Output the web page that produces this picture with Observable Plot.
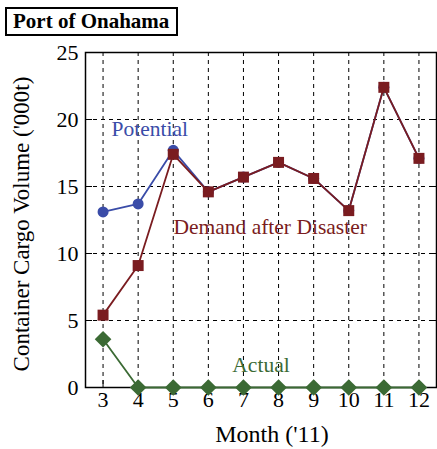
<!DOCTYPE html>
<html><head><meta charset="utf-8">
<script src="https://cdn.jsdelivr.net/npm/d3@7"></script>
<script src="https://cdn.jsdelivr.net/npm/@observablehq/plot@0.6"></script>
<style>
body{margin:0;background:#fff;font-family:"Liberation Serif",serif;}
#wrap{position:relative;width:437px;height:449px;}
#title{position:absolute;left:5px;top:7px;border:2px solid #000;padding:0px 7px 0px 6px;font:bold 21px "Liberation Serif",serif;line-height:25px;background:#fff;}
</style></head>
<body><div id="wrap"><div id="title">Port of Onahama</div></div>
<script>
const months = [3,4,5,6,7,8,9,10,11,12];
const potential = [13.1,13.7,17.7,14.6,15.7,16.8,15.6,13.2,22.4,17.1];
const demand = [5.4,9.1,17.4,14.6,15.7,16.8,15.6,13.2,22.4,17.1];
const actual = [3.6,0,0,0,0,0,0,0,0,0];
const yTicks = [0,5,10,15,20,25];
const seriesNames = ["Potential","Demand after Disaster","Actual"];
const seriesColors = ["#3a4ca8","#7a1c20","#3b6a34"];
const labelX = [4.33,7.76,7.5];
const labelY = [19.25,12.0,1.7];
const xTitle = "Month ('11)";
const yTitle = "Container Cargo Volume ('000t)";

const pot = months.map((m,i)=>({m, v:potential[i]}));
const dem = months.map((m,i)=>({m, v:demand[i]}));
const act = months.map((m,i)=>({m, v:actual[i]}));
const labels = seriesNames.map((t,i)=>({t, x:labelX[i], y:labelY[i], c:seriesColors[i]}));

const chart = Plot.plot({
  width:437, height:449,
  marginTop:52, marginLeft:85, marginRight:1, marginBottom:62,
  style:{fontFamily:"Liberation Serif, serif", fontSize:"22px", background:"#fff", color:"#000"},
  x:{domain:[2.5,12.5]},
  y:{domain:[0,25]},
  marks:[
    Plot.gridX(months,{stroke:"#000", strokeOpacity:1, strokeDasharray:"4,4", strokeWidth:1}),
    Plot.gridY([5,10,15,20],{stroke:"#000", strokeOpacity:1, strokeDasharray:"4,4", strokeWidth:1}),
    Plot.axisY(yTicks,{tickSize:0, tickPadding:7, fontSize:22, label:null}),
    Plot.axisY(yTicks,{anchor:"left", tickSize:-7, text:null, label:null}),
    Plot.axisY(yTicks,{anchor:"right", tickSize:-7, text:null, label:null}),
    Plot.axisX(months,{tickSize:0, tickPadding:4, fontSize:22, tickFormat:d=>String(d), label:null}),
    Plot.axisX(months,{anchor:"bottom", tickSize:-7, text:null, label:null}),
    Plot.text([xTitle],{frameAnchor:"bottom", lineAnchor:"middle", textAnchor:"middle", dx:11, dy:47, fontSize:24, fill:"#000"}),
    Plot.text([yTitle],{frameAnchor:"left", rotate:-90, textAnchor:"middle", lineAnchor:"middle", dx:-64, dy:4, fontSize:23, fill:"#000"}),
    Plot.frame({stroke:"#000", strokeWidth:1.5}),
    Plot.line(pot,{x:"m", y:"v", stroke:seriesColors[0], strokeWidth:1.8}),
    Plot.dot(pot,{x:"m", y:"v", r:5.5, fill:seriesColors[0], symbol:"circle"}),
    Plot.line(dem,{x:"m", y:"v", stroke:seriesColors[1], strokeWidth:1.8}),
    Plot.dot(dem,{x:"m", y:"v", r:6.2, fill:seriesColors[1], symbol:"square"}),
    Plot.line(act,{x:"m", y:"v", stroke:seriesColors[2], strokeWidth:1.8}),
    Plot.dot(act,{x:"m", y:"v", r:7.5, fill:seriesColors[2], symbol:"diamond2"}),
    Plot.text(labels,{x:"x", y:"y", text:"t", fill:"c", fontSize:21.5})
  ]
});
document.getElementById("wrap").appendChild(chart);
</script>
</body></html>
